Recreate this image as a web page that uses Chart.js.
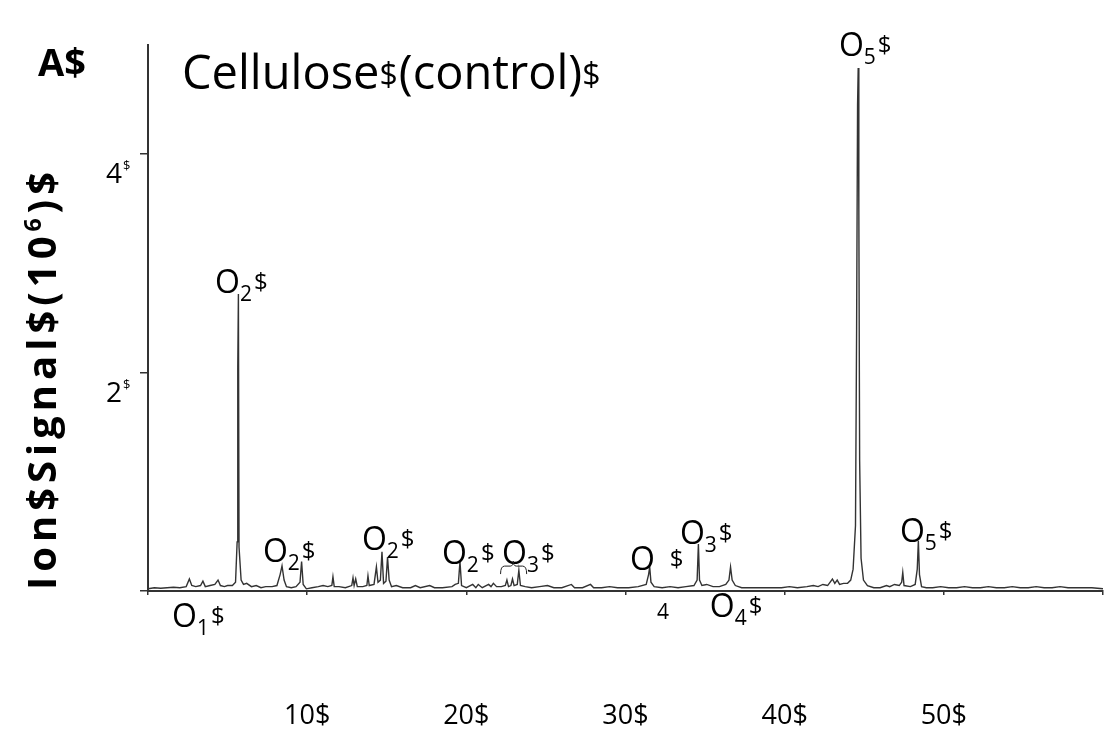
<!DOCTYPE html>
<html>
<head>
<meta charset="utf-8">
<script src="https://cdn.jsdelivr.net/npm/chart.js@4.4.1/dist/chart.umd.min.js"></script>
<style>
  body { margin: 0; background: #fff; }
  #wrap { width: 1110px; height: 734px; }
</style>
</head>
<body>
<div id="wrap"><canvas id="grafica" width="1110" height="734"></canvas></div>
<script>
// retention time (min) and ion signal (10^6)
const traceX = [0.0, 0.4, 0.8, 1.2, 1.6, 2.0, 2.4, 2.6, 2.75, 3.0, 3.3, 3.45, 3.6, 3.9, 4.2, 4.4, 4.55, 4.8, 5.0, 5.3,
  5.5, 5.6, 5.64, 5.68, 5.72, 5.85, 6.0, 6.2, 6.5, 6.8, 7.1, 7.4, 7.8, 8.1, 8.3, 8.42, 8.55, 8.7, 9.0, 9.3,
  9.55, 9.65, 9.75, 9.95, 10.3, 10.7, 11.0, 11.3, 11.55, 11.62, 11.7, 12.0, 12.4, 12.8, 12.88, 12.95, 13.05, 13.15, 13.5, 13.75,
  13.82, 13.9, 14.2, 14.35, 14.45, 14.6, 14.7, 14.8, 14.95, 15.05, 15.15, 15.3, 15.6, 16.0, 16.5, 16.8, 17.1, 17.7, 18.0, 18.5,
  19.1, 19.3, 19.5, 19.6, 19.7, 20.0, 20.4, 20.6, 20.75, 21.0, 21.4, 21.55, 21.7, 21.9, 22.2, 22.45, 22.55, 22.65, 22.8, 22.9,
  23.0, 23.2, 23.3, 23.4, 23.7, 24.1, 24.6, 25.1, 25.5, 26.0, 26.6, 26.8, 27.3, 27.8, 28.0, 28.5, 29.0, 29.5, 30.2, 30.8,
  31.3, 31.45, 31.52, 31.6, 31.8, 32.3, 32.8, 33.3, 33.8, 34.3, 34.5, 34.58, 34.65, 34.8, 35.1, 35.5, 35.9, 36.3, 36.5, 36.6,
  36.7, 36.9, 37.3, 37.8, 38.3, 38.8, 39.3, 39.8, 40.3, 40.8, 41.4, 41.8, 42.1, 42.4, 42.7, 43.0, 43.15, 43.3, 43.45, 43.7,
  43.95, 44.15, 44.3, 44.45, 44.52, 44.58, 44.62, 44.66, 44.71, 44.8, 44.95, 45.2, 45.6, 46.0, 46.4, 46.6, 46.9, 47.2, 47.35, 47.42,
  47.5, 47.9, 48.2, 48.33, 48.4, 48.47, 48.6, 48.9, 49.3, 49.8, 50.3, 50.8, 51.3, 51.8, 52.3, 52.8, 53.3, 53.8, 54.3, 54.8,
  55.3, 55.8, 56.3, 56.8, 57.3, 57.8, 58.3, 58.8, 59.3, 60.0];
const traceY = [0.02, 0.03, 0.025, 0.03, 0.035, 0.03, 0.04, 0.11, 0.05, 0.04, 0.05, 0.09, 0.04, 0.05, 0.06, 0.1, 0.05, 0.04, 0.05, 0.05,
  0.08, 0.45, 2.05, 2.72, 0.4, 0.1, 0.06, 0.07, 0.04, 0.05, 0.03, 0.04, 0.04, 0.05, 0.15, 0.23, 0.1, 0.04, 0.03, 0.04,
  0.08, 0.27, 0.06, 0.02, 0.03, 0.04, 0.05, 0.04, 0.05, 0.13, 0.04, 0.04, 0.03, 0.05, 0.12, 0.05, 0.11, 0.04, 0.04, 0.05,
  0.14, 0.05, 0.06, 0.22, 0.08, 0.1, 0.36, 0.07, 0.09, 0.31, 0.1, 0.04, 0.05, 0.03, 0.03, 0.05, 0.03, 0.05, 0.03, 0.03,
  0.04, 0.06, 0.07, 0.27, 0.05, 0.03, 0.06, 0.03, 0.06, 0.03, 0.06, 0.04, 0.07, 0.04, 0.04, 0.05, 0.1, 0.04, 0.05, 0.11,
  0.05, 0.06, 0.19, 0.05, 0.04, 0.03, 0.04, 0.05, 0.03, 0.03, 0.06, 0.03, 0.03, 0.06, 0.03, 0.03, 0.04, 0.03, 0.03, 0.04,
  0.06, 0.15, 0.22, 0.08, 0.04, 0.03, 0.04, 0.03, 0.04, 0.05, 0.1, 0.43, 0.1, 0.05, 0.06, 0.04, 0.04, 0.06, 0.1, 0.22,
  0.1, 0.05, 0.03, 0.03, 0.03, 0.03, 0.03, 0.03, 0.04, 0.03, 0.04, 0.05, 0.04, 0.06, 0.05, 0.11, 0.07, 0.1, 0.06, 0.07,
  0.07, 0.1, 0.2, 0.6, 2.4, 4.45, 4.79, 3.5, 1.2, 0.3, 0.1, 0.05, 0.03, 0.03, 0.05, 0.04, 0.06, 0.05, 0.08, 0.17,
  0.05, 0.04, 0.06, 0.2, 0.46, 0.15, 0.04, 0.03, 0.03, 0.04, 0.03, 0.03, 0.04, 0.03, 0.03, 0.04, 0.03, 0.03, 0.04, 0.03,
  0.03, 0.04, 0.03, 0.03, 0.04, 0.03, 0.03, 0.03, 0.03, 0.02];

const xTicks = [0, 10, 20, 30, 40, 50, 60];
const xTickLabels = ['', '10$', '20$', '30$', '40$', '50$', ''];
const yTicks = [0, 2, 4];
const yTickLabels = ['', '2', '4'];

// peak labels: left of the "O", baseline, subscript
const peakLabelX = [1.51, 4.21, 7.22, 13.44, 18.47, 22.24, 30.28, 33.42, 35.3, 43.41, 47.24];
const peakLabelY = [-0.33, 2.73, 0.265, 0.38, 0.25, 0.25, 0.19, 0.43, -0.24, 4.90, 0.45];
const peakLabelSub = ['1', '2', '2', '2', '2', '3', '', '3', '4', '5', '5'];

const strayX = [31.98];
const strayY = [-0.256];
const strayText = ['4'];

// brace over the O3 cluster
const braceX = [22.15, 22.95, 23.79];
const braceY = [0.155, 0.228, 0.274];

const FONT = "'Open Sans', 'Noto Sans', sans-serif";

function drawParts(ctx, x, y, parts) {
  let cx = x;
  parts.forEach(p => {
    ctx.font = (p.bold ? 'bold ' : '') + p.size + 'px ' + FONT;
    ctx.fillText(p.t, cx, y + (p.dy || 0));
    cx += ctx.measureText(p.t).width + (p.gap || 0);
  });
  return cx - x;
}

// draws text char by char, spreading it over a fixed length
function drawSpread(ctx, x, y, parts, total) {
  const chars = [];
  parts.forEach(p => p.t.split('').forEach(c => chars.push({ c: c, p: p })));
  let w = 0;
  chars.forEach(o => {
    ctx.font = (o.p.bold ? 'bold ' : '') + o.p.size + 'px ' + FONT;
    o.w = ctx.measureText(o.c).width;
    w += o.w;
  });
  const extra = Math.max((total - w) / (chars.length - 1), 0);
  let cx = x;
  chars.forEach(o => {
    ctx.font = (o.p.bold ? 'bold ' : '') + o.p.size + 'px ' + FONT;
    ctx.fillText(o.c, cx, y + (o.p.dy || 0));
    cx += o.w + extra;
  });
}

const textos = {
  id: 'textos',
  afterDraw(chart) {
    const ctx = chart.ctx;
    const sx = chart.scales.x, sy = chart.scales.y;
    ctx.save();
    ctx.fillStyle = '#000';
    ctx.textBaseline = 'alphabetic';
    ctx.textAlign = 'left';

    // panel letter and title
    drawParts(ctx, 38, 76, [{ t: 'A$', size: 38, bold: true }]);
    drawParts(ctx, 182, 89, [
      { t: 'Cellulose', size: 47 },
      { t: '$', size: 32, dy: -3, gap: 1 },
      { t: '(control)', size: 47 },
      { t: '$', size: 32, dy: -3 }
    ]);

    // y tick labels
    yTicks.forEach((v, i) => {
      if (!yTickLabels[i]) return;
      const py = sy.getPixelForValue(v);
      drawParts(ctx, 106, py + 29, [
        { t: yTickLabels[i], size: 28, gap: 1 },
        { t: '$', size: 13, dy: -13 }
      ]);
    });

    // y axis title
    const yParts = [
      { t: 'Ion$Signal$(10', size: 40, bold: true },
      { t: '6', size: 23, bold: true, dy: -15 },
      { t: ')$', size: 40, bold: true }
    ];
    ctx.save();
    ctx.translate(56, 590);
    ctx.rotate(-Math.PI / 2);
    drawSpread(ctx, 0, 0, yParts, 418);
    ctx.restore();

    // peak labels
    peakLabelX.forEach((v, i) => {
      const px = sx.getPixelForValue(v);
      const py = sy.getPixelForValue(peakLabelY[i]);
      const parts = [{ t: 'O', size: 32, gap: 0 }];
      if (peakLabelSub[i]) parts.push({ t: peakLabelSub[i], size: 21, dy: 8, gap: 2 });
      else parts[0].gap = 15;
      parts.push({ t: '$', size: 24, dy: -3 });
      drawParts(ctx, px, py, parts);
    });
    strayX.forEach((v, i) => {
      drawParts(ctx, sx.getPixelForValue(v), sy.getPixelForValue(strayY[i]), [{ t: strayText[i], size: 21 }]);
    });

    // brace
    const bx = braceX.map(v => sx.getPixelForValue(v));
    const by = braceY.map(v => sy.getPixelForValue(v));
    ctx.strokeStyle = '#222';
    ctx.lineWidth = 1;
    ctx.beginPath();
    ctx.moveTo(bx[0], by[0]);
    ctx.quadraticCurveTo(bx[0], by[1], bx[0] + 4, by[1]);
    ctx.lineTo(bx[1] - 3, by[1]);
    ctx.quadraticCurveTo(bx[1], by[1], bx[1], by[2]);
    ctx.quadraticCurveTo(bx[1], by[1], bx[1] + 3, by[1]);
    ctx.lineTo(bx[2] - 4, by[1]);
    ctx.quadraticCurveTo(bx[2], by[1], bx[2], by[0]);
    ctx.stroke();
    ctx.restore();
  }
};

const puntos = traceX.map((x, i) => ({ x: x, y: traceY[i] }));

new Chart(document.getElementById('grafica'), {
  type: 'line',
  data: {
    datasets: [{
      data: puntos,
      borderColor: '#333',
      borderWidth: 1.4,
      pointRadius: 0,
      tension: 0,
      fill: false
    }]
  },
  options: {
    responsive: false,
    animation: false,
    layout: { padding: { top: 45, right: 7, left: 0, bottom: 0 } },
    plugins: { legend: { display: false }, tooltip: { enabled: false } },
    scales: {
      x: {
        type: 'linear',
        min: 0,
        max: 60,
        afterBuildTicks: s => { s.ticks = xTicks.map(v => ({ value: v })); },
        afterFit: s => { s.height = 143; s.paddingLeft = 0; s.paddingRight = 0; },
        ticks: {
          autoSkip: false,
          maxRotation: 0,
          padding: 105,
          color: '#000',
          font: { family: FONT, size: 27 },
          callback: (v) => xTickLabels[xTicks.indexOf(v)] || ''
        },
        grid: { drawOnChartArea: false, drawTicks: true, tickLength: 4, color: '#333', lineWidth: 1.5 },
        border: { color: '#333', width: 2 }
      },
      y: {
        min: 0,
        max: 5,
        afterBuildTicks: s => { s.ticks = yTicks.map(v => ({ value: v })); },
        afterFit: s => { s.width = 148; },
        ticks: { display: false },
        grid: { drawOnChartArea: false, drawTicks: true, tickLength: 8, color: '#333', lineWidth: 1.5 },
        border: { color: '#333', width: 2 }
      }
    }
  },
  plugins: [textos]
});
</script>
</body>
</html>
